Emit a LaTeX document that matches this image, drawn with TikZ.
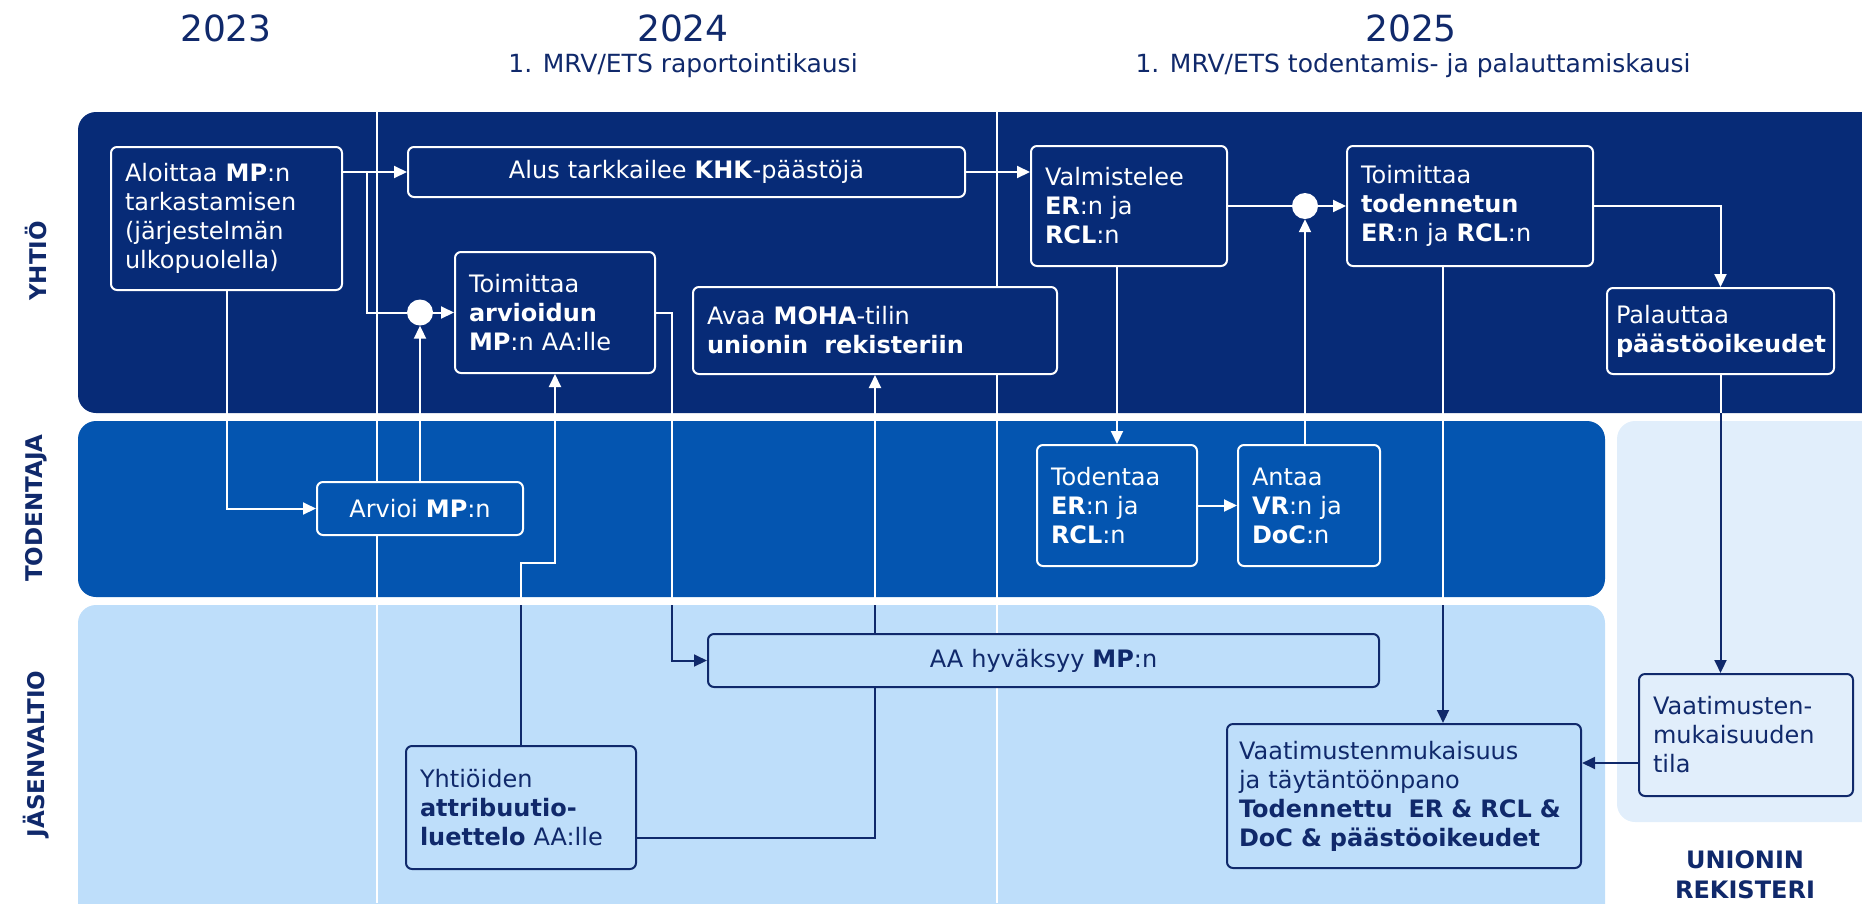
\documentclass[tikz,border=0pt]{standalone}
\usepackage{fontspec}
\setmainfont{DejaVu Sans}
\usepackage{tikz}
\usetikzlibrary{arrows.meta,positioning,calc}
\definecolor{laneNavy}{HTML}{072B77}
\definecolor{laneBlue}{HTML}{0455B0}
\definecolor{laneLight}{HTML}{BEDEFA}
\definecolor{lanePale}{HTML}{E1EEFB}
\definecolor{inkNavy}{HTML}{10296B}
\hyphenpenalty=10000
\exhyphenpenalty=10000
\newcommand{\boxfont}{\fontsize{24}{29}\selectfont}
% all connectors, drawn once in white and once (clipped) in navy
\newcommand{\flowlinks}[1]{%
  \draw[link,#1] (aloit.east |- alus.west) -- (alus.west);
  \draw[plainlink,#1] (brk1) |- (junc1.west);
  \draw[link,#1] (aloit.south) |- (arvioi.west);
  \draw[link,#1] (arvioi.north) -- (junc1.south);
  \draw[link,#1] (junc1.east) -- (toimarv.west);
  \draw[link,#1] (yhtiot.north) |- (yjog) -- (toimarv.south);
  \draw[link,#1] (toimarv.east) -- ++(16,0) |- (aahyv.west);
  \draw[link,#1] (aahyv.north -| moha.south) -- (moha.south);
  \draw[plainlink,#1] ($(yhtiot.east)+(0,30)$) -| (aahyv.south -| moha.south);
  \draw[link,#1] (alus.east) -- (alus.east -| valm.west);
  \draw[link,#1] (valm.south -| todentaa.north) -- (todentaa.north);
  \draw[link,#1] (todentaa.east) -- (antaa.west);
  \draw[link,#1] (antaa.north -| junc2.south) -- (junc2.south);
  \draw[plainlink,#1] (valm.east) -- (junc2.west);
  \draw[link,#1] (junc2.east) -- (toimtod.west);
  \draw[link,#1] (toimtod.east) -| (palaut.north);
  \draw[link,#1] (toimtod.south -| todx) -- (vaatim.north -| todx);
  \draw[link,#1] (palaut.south) -- (palaut.south |- tila.north);
  \draw[link,#1] (tila.west |- tilay) -- (vaatim.east |- tilay);
}

\begin{document}
\begin{tikzpicture}[x=1pt,y=-1pt,
    darkbox/.style={rectangle,draw=white,fill=laneNavy,line width=2pt,
                    rounded corners=6pt,text=white,font=\boxfont,
                    align=left,inner xsep=14pt,inner ysep=3pt},
    verifbox/.style={darkbox,fill=laneBlue},
    lightbox/.style={darkbox,draw=inkNavy,fill=laneLight,text=inkNavy},
    regbox/.style={lightbox,fill=lanePale},
    junc/.style={circle,fill=white,minimum size=26pt,inner sep=0pt},
    link/.style={line width=2pt,-{Triangle[length=13pt,width=12pt]}},
    plainlink/.style={line width=2pt},
    sepline/.style={white,line width=2pt},
    yearlbl/.style={font=\fontsize{36}{40}\selectfont,text=inkNavy},
    periodlbl/.style={font=\fontsize{25}{30}\selectfont,text=inkNavy},
    lanelbl/.style={font=\fontsize{23}{28}\selectfont\bfseries,text=inkNavy,rotate=90},
    reglbl/.style={font=\fontsize{24}{30}\selectfont\bfseries,text=inkNavy,align=center}
  ]
  \useasboundingbox (0,0) rectangle (1862,903);
  % Lanes
  \begin{scope}
    \clip (0,0) rectangle (1862,903);
    \fill[laneNavy,rounded corners=18pt]  (78,112) rectangle (1900,413);
    \fill[laneBlue,rounded corners=18pt]  (78,421) rectangle (1605,597);
    \fill[laneLight,rounded corners=18pt] (78,605) rectangle (1605,940);
    \fill[lanePale,rounded corners=18pt]  (1617,421) rectangle (1900,822);
  \end{scope}
  \draw[sepline] (377,112) -- (377,903);
  \draw[sepline] (997,112) -- (997,903);
  % Years
  \node[yearlbl]   (y23) at (226,28) {2023};
  \node[yearlbl]   (y24) at (683,28) {2024};
  \node[yearlbl]   (y25) at (1411,28) {2025};
  \node[periodlbl] (p24) at (683,66) {1. MRV/ETS raportointikausi};
  \node[periodlbl] (p25) at (1413,66) {1. MRV/ETS todentamis- ja palauttamiskausi};
  % Lane names
  \node[lanelbl] (lyht) at (36,261) {YHTIÖ};
  \node[lanelbl] (ltod) at (36,508) {TODENTAJA};
  \node[lanelbl] (ljas) at (36,754) {JÄSENVALTIO};
  \node[reglbl]  (lreg) at (1745,875) {UNIONIN\\REKISTERI};
  % Yhtiö
  \node[darkbox,text width=203pt,minimum height=143pt] (aloit) at (226.5,218.5)
    {Aloittaa \textbf{MP}:n\\tarkastamisen\\(järjestelmän\\ulkopuolella)};
  \node[darkbox,align=center,text width=529pt,minimum height=50pt] (alus) at (686.5,172)
    {Alus tarkkailee \textbf{KHK}-päästöjä};
  \node[darkbox,text width=168pt,minimum height=120pt] (valm) at (1129,206)
    {Valmistelee\\\textbf{ER}:n ja\\\textbf{RCL}:n};
  \node[darkbox,text width=218pt,minimum height=120pt] (toimtod) at (1470,206)
    {Toimittaa\\\textbf{todennetun}\\\textbf{ER}:n ja \textbf{RCL}:n};
  \node[darkbox,text width=172pt,minimum height=121pt] (toimarv) at (555,312.5)
    {Toimittaa\\\textbf{arvioidun}\\\textbf{MP}:n AA:lle};
  \node[darkbox,text width=336pt,minimum height=87pt] (moha) at (875,330.5)
    {Avaa \textbf{MOHA}-tilin\\\textbf{unionin\ \ rekisteriin}};
  \node[darkbox,inner xsep=9pt,text width=209pt,minimum height=86pt] (palaut) at (1720.5,331)
    {Palauttaa\\\textbf{päästöoikeudet}};
  \node[junc] (junc1) at (420,312.5) {};
  \node[junc] (junc2) at (1305,206) {};
  % Todentaja
  \node[verifbox,align=center,text width=178pt,minimum height=53pt] (arvioi) at (420,508.5)
    {Arvioi \textbf{MP}:n};
  \node[verifbox,text width=132pt,minimum height=121pt] (todentaa) at (1117,505.5)
    {Todentaa\\\textbf{ER}:n ja\\\textbf{RCL}:n};
  \node[verifbox,text width=114pt,minimum height=121pt] (antaa) at (1309,505.5)
    {Antaa\\\textbf{VR}:n ja\\\textbf{DoC}:n};
  % Jäsenvaltio
  \node[lightbox,align=center,text width=643pt,minimum height=53pt] (aahyv) at (1043.5,660.5)
    {AA hyväksyy \textbf{MP}:n};
  \node[lightbox,text width=202pt,minimum height=123pt] (yhtiot) at (521,807.5)
    {Yhtiöiden\\\textbf{attribuutio-}\\\textbf{luettelo} AA:lle};
  \node[lightbox,inner xsep=12pt,text width=330pt,minimum height=144pt] (vaatim) at (1404,796)
    {Vaatimustenmukaisuus\\ja täytäntöönpano\\\textbf{Todennettu\ \ ER \& RCL \&}\\\textbf{DoC \& päästöoikeudet}};
  % Unionin rekisteri
  \node[regbox,text width=186pt,minimum height=122pt] (tila) at (1746,735)
    {Vaatimusten-\\mukaisuuden\\tila};
  % Bends
  \coordinate (brk1) at (367,172);
  \coordinate (yjog) at (555,563);
  \coordinate (todx) at (1443,0);
  \coordinate (tilay) at (0,763);
  % Connectors
  \flowlinks{white}
  \begin{scope}
    \clip (78,605) rectangle (1862,903) (1605,413) rectangle (1862,903);
    \flowlinks{inkNavy}
  \end{scope}
\end{tikzpicture}
\end{document}
